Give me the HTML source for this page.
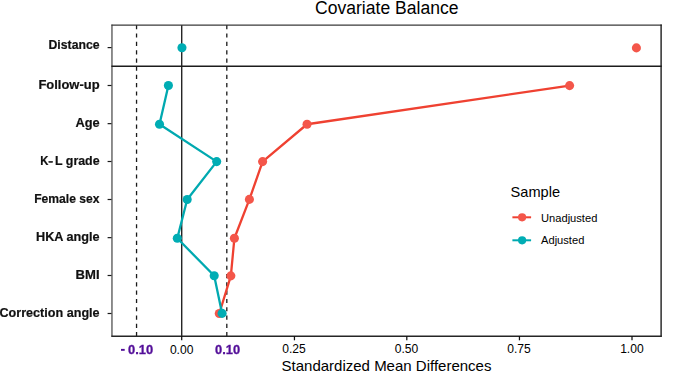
<!DOCTYPE html>
<html><head><meta charset="utf-8">
<style>
html,body{margin:0;padding:0;background:#fff;width:685px;height:372px;overflow:hidden;}
svg{display:block;}
text{font-family:"Liberation Sans",sans-serif;}
</style></head>
<body>
<svg width="685" height="372" viewBox="0 0 685 372">
<rect x="0" y="0" width="685" height="372" fill="#fff"/>
<!-- title -->
<text x="386.75" y="13.8" font-size="18" text-anchor="middle" fill="#000" textLength="143.4" lengthAdjust="spacingAndGlyphs">Covariate Balance</text>

<!-- dashed threshold lines: top panel (from top) -->
<g stroke="#1a1a1a" stroke-width="1.3" stroke-dasharray="4.2 4.2" fill="none">
  <line x1="136.55" y1="25" x2="136.55" y2="66"/>
  <line x1="226.81" y1="25" x2="226.81" y2="66"/>
</g>
<g stroke="#1a1a1a" stroke-width="1.3" stroke-dasharray="4.15 4.15" fill="none">
  <line x1="136.55" y1="66.5" x2="136.55" y2="336"/>
  <line x1="226.81" y1="66.5" x2="226.81" y2="336"/>
</g>
<!-- zero line -->
<line x1="181.73" y1="25" x2="181.73" y2="336" stroke="#141414" stroke-width="1.3"/>

<!-- panel borders -->
<line x1="111.97" y1="24.6" x2="111.97" y2="336.8" stroke="#1e1e1e" stroke-width="1.0"/>
<line x1="111.4" y1="25.12" x2="661.8" y2="25.12" stroke="#3a3a3a" stroke-width="1.15"/>
<line x1="661.11" y1="24.6" x2="661.11" y2="336.8" stroke="#1e1e1e" stroke-width="1.4"/>
<line x1="111.4" y1="336.2" x2="661.8" y2="336.2" stroke="#252525" stroke-width="1.4"/>
<line x1="111.4" y1="66.22" x2="661.8" y2="66.22" stroke="#1c1c1c" stroke-width="1.35"/>

<!-- y ticks -->
<g stroke="#1a1a1a" stroke-width="1.2">
  <line x1="107.6" y1="47.6" x2="111.5" y2="47.6"/>
  <line x1="107.6" y1="85.5" x2="111.5" y2="85.5"/>
  <line x1="107.6" y1="123.65" x2="111.5" y2="123.65"/>
  <line x1="107.6" y1="161.5" x2="111.5" y2="161.5"/>
  <line x1="107.6" y1="199.5" x2="111.5" y2="199.5"/>
  <line x1="107.6" y1="237.65" x2="111.5" y2="237.65"/>
  <line x1="107.6" y1="275.5" x2="111.5" y2="275.5"/>
  <line x1="107.6" y1="313.5" x2="111.5" y2="313.5"/>
</g>
<!-- x ticks -->
<g stroke="#111" stroke-width="1.25">
  <line x1="181.7" y1="336" x2="181.7" y2="340.3"/>
  <line x1="294.45" y1="336" x2="294.45" y2="340.3"/>
  <line x1="406.8" y1="336" x2="406.8" y2="340.3"/>
  <line x1="519.45" y1="336" x2="519.45" y2="340.3"/>
  <line x1="632.0" y1="336" x2="632.0" y2="340.3"/>
</g>

<g font-size="12.1" fill="#000" text-anchor="middle">
  <text x="181.65" y="353.6">0.00</text>
  <text x="294.05" y="353.15">0.25</text>
  <text x="406.5" y="353.15">0.50</text>
  <text x="519.05" y="353.15">0.75</text>
  <text x="631.9" y="353.15">1.00</text>
</g>
<text x="386.5" y="370.6" font-size="15" text-anchor="middle" fill="#000">Standardized Mean Differences</text>

<!-- data lines -->
<polyline fill="none" stroke="#ef4131" stroke-width="2.3" stroke-linejoin="round"
  points="569.6,85.6 307.05,124.25 262.6,161.6 249.4,199.4 234.4,238.25 230.85,275.85 219.3,313.5"/>
<polyline fill="none" stroke="#00a9b0" stroke-width="2.3" stroke-linejoin="round"
  points="168.4,85.5 159.5,124.3 216.7,161.6 187.2,199.5 177.3,238.3 214.2,275.8 222.1,313.4"/>

<!-- red points -->
<g fill="#f4564a">
  <circle cx="636.4" cy="47.9" r="4.55"/>
  <circle cx="569.6" cy="85.6" r="4.55"/>
  <circle cx="307.05" cy="124.25" r="4.55"/>
  <circle cx="262.6" cy="161.6" r="4.55"/>
  <circle cx="249.4" cy="199.4" r="4.55"/>
  <circle cx="234.4" cy="238.25" r="4.55"/>
  <circle cx="230.85" cy="275.85" r="4.55"/>
  <circle cx="219.3" cy="313.5" r="4.55"/>
</g>
<!-- teal points -->
<g fill="#00adb4">
  <circle cx="181.95" cy="47.7" r="4.55"/>
  <circle cx="168.4" cy="85.5" r="4.55"/>
  <circle cx="159.5" cy="124.3" r="4.55"/>
  <circle cx="216.7" cy="161.6" r="4.55"/>
  <circle cx="187.2" cy="199.5" r="4.55"/>
  <circle cx="177.3" cy="238.3" r="4.55"/>
  <circle cx="214.2" cy="275.8" r="4.55"/>
  <circle cx="222.1" cy="313.4" r="4.55"/>
</g>

<!-- legend -->
<text x="510.6" y="196.7" font-size="14.6" fill="#000">Sample</text>
<line x1="512.4" y1="217.3" x2="531.1" y2="217.3" stroke="#ef4131" stroke-width="2"/>
<circle cx="522.1" cy="217.3" r="4.1" fill="#f4564a"/>
<line x1="512.4" y1="240.3" x2="531.1" y2="240.3" stroke="#00a9b0" stroke-width="2"/>
<circle cx="522.1" cy="240.3" r="4.1" fill="#00adb4"/>
<text x="541.0" y="221.9" font-size="11.15" fill="#000">Unadjusted</text>
<text x="541.0" y="244.4" font-size="11.15" fill="#000">Adjusted</text>
<!-- y labels -->
<g font-size="12.6" font-weight="bold" fill="#111" stroke="#111" stroke-width="0.2" text-anchor="end" style="will-change:transform">
  <text x="99.6" y="49.2" textLength="51.1" lengthAdjust="spacingAndGlyphs">Distance</text>
  <text x="99.6" y="89" textLength="61.2" lengthAdjust="spacingAndGlyphs">Follow-up</text>
  <text x="99.6" y="126.9" textLength="24.2" lengthAdjust="spacingAndGlyphs">Age</text>
  <text x="40.35" y="165" text-anchor="start" textLength="8.2" lengthAdjust="spacingAndGlyphs">K</text><rect x="48.8" y="161.2" width="4" height="1.45"/><text x="99.6" y="165" textLength="44.6" lengthAdjust="spacingAndGlyphs">L grade</text>
  <text x="99.6" y="203" textLength="65.4" lengthAdjust="spacingAndGlyphs">Female sex</text>
  <text x="99.6" y="240.9" textLength="63.6" lengthAdjust="spacingAndGlyphs">HKA angle</text>
  <text x="99.6" y="278.9" textLength="24.0" lengthAdjust="spacingAndGlyphs">BMI</text>
  <text x="99.6" y="316.9" textLength="100.1" lengthAdjust="spacingAndGlyphs">Correction angle</text>
</g>

<!-- x labels -->
<rect x="121" y="348.9" width="3.7" height="1.9" fill="#520d98"/>
<g font-size="12.6" font-weight="bold" fill="#520d98" stroke="#520d98" stroke-width="0.3" text-anchor="middle" style="will-change:transform">
  <text x="140.6" y="353.8" textLength="25.1" lengthAdjust="spacingAndGlyphs">0.10</text>
  <text x="227.65" y="353.8" textLength="25.1" lengthAdjust="spacingAndGlyphs">0.10</text>
</g>
</svg>
</body></html>
